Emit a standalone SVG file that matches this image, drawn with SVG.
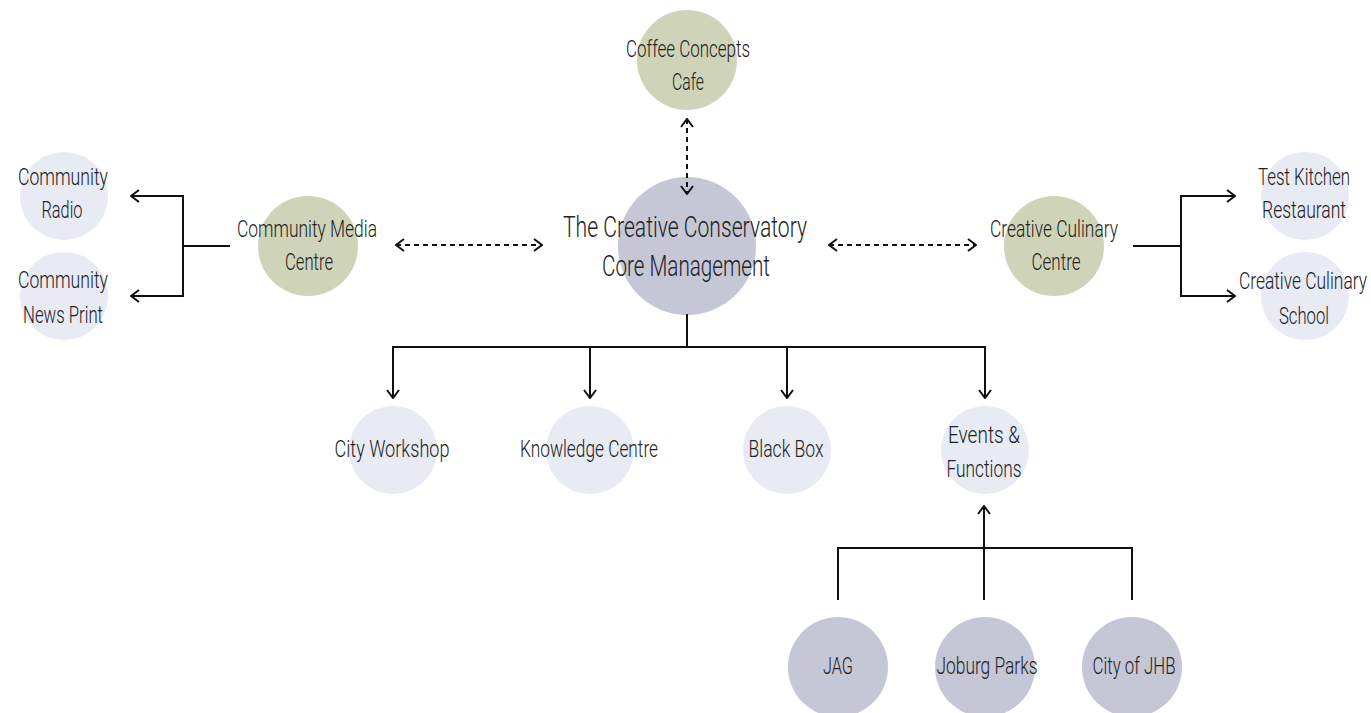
<svg xmlns="http://www.w3.org/2000/svg" width="1371" height="713" viewBox="0 0 1371 713">
<defs>
<style>
.olive{fill:#cfd3b7}
.core{fill:#c5c6d6}
.light{fill:#e8eaf4}
.dark{fill:#c5c6d6}
text{font-family:Roboto,"Liberation Sans",sans-serif;font-weight:300;fill:#222;text-anchor:middle}
.s{font-size:16px}
.l{font-size:20px}
.ln{fill:none;stroke:#111;stroke-width:2}
.dash{fill:none;stroke:#111;stroke-width:2;stroke-dasharray:5 4}
</style>
<marker id="ah" viewBox="0 0 10 14" refX="9" refY="7" markerWidth="10" markerHeight="14" markerUnits="userSpaceOnUse" orient="auto-start-reverse">
<path d="M1,1 L9,7 L1,13" fill="none" stroke="#111" stroke-width="2" stroke-dasharray="none"/>
</marker>
</defs>

<g id="coffee">
<circle class="olive" cx="687" cy="60" r="50"/>
<text class="s" transform="translate(688,57) scale(1,1.5)" textLength="124" lengthAdjust="spacingAndGlyphs">Coffee Concepts</text>
<text class="s" transform="translate(688,90) scale(1,1.5)" textLength="32" lengthAdjust="spacingAndGlyphs">Cafe</text>
</g>
<g id="core">
<circle class="core" cx="687" cy="246" r="69"/>
<text class="l" transform="translate(685,237) scale(1,1.5)" textLength="244" lengthAdjust="spacingAndGlyphs">The Creative Conservatory</text>
<text class="l" transform="translate(686,276) scale(1,1.5)" textLength="168" lengthAdjust="spacingAndGlyphs">Core Management</text>
</g>
<g id="media">
<circle class="olive" cx="308" cy="246" r="50"/>
<text class="s" transform="translate(307,237) scale(1,1.5)" textLength="140" lengthAdjust="spacingAndGlyphs">Community Media</text>
<text class="s" transform="translate(309,270) scale(1,1.5)" textLength="48" lengthAdjust="spacingAndGlyphs">Centre</text>
</g>
<g id="radio">
<circle class="light" cx="64" cy="196" r="44"/>
<text class="s" transform="translate(63,185) scale(1,1.5)" textLength="90" lengthAdjust="spacingAndGlyphs">Community</text>
<text class="s" transform="translate(62,218) scale(1,1.5)" textLength="41" lengthAdjust="spacingAndGlyphs">Radio</text>
</g>
<g id="newsprint">
<circle class="light" cx="64" cy="296" r="44"/>
<text class="s" transform="translate(63,288) scale(1,1.5)" textLength="90" lengthAdjust="spacingAndGlyphs">Community</text>
<text class="s" transform="translate(63,323) scale(1,1.5)" textLength="80" lengthAdjust="spacingAndGlyphs">News Print</text>
</g>
<g id="culinary">
<circle class="olive" cx="1054" cy="246" r="50"/>
<text class="s" transform="translate(1054,237) scale(1,1.5)" textLength="128" lengthAdjust="spacingAndGlyphs">Creative Culinary</text>
<text class="s" transform="translate(1056,270) scale(1,1.5)" textLength="49" lengthAdjust="spacingAndGlyphs">Centre</text>
</g>
<g id="testkitchen">
<circle class="light" cx="1305" cy="196" r="44"/>
<text class="s" transform="translate(1304,185) scale(1,1.5)" textLength="92" lengthAdjust="spacingAndGlyphs">Test Kitchen</text>
<text class="s" transform="translate(1304,218) scale(1,1.5)" textLength="84" lengthAdjust="spacingAndGlyphs">Restaurant</text>
</g>
<g id="school">
<circle class="light" cx="1305" cy="296" r="44"/>
<text class="s" transform="translate(1303,289) scale(1,1.5)" textLength="128" lengthAdjust="spacingAndGlyphs">Creative Culinary</text>
<text class="s" transform="translate(1304,324) scale(1,1.5)" textLength="50" lengthAdjust="spacingAndGlyphs">School</text>
</g>
<g id="workshop">
<circle class="light" cx="393" cy="450" r="44"/>
<text class="s" transform="translate(392,457) scale(1,1.5)" textLength="115" lengthAdjust="spacingAndGlyphs">City Workshop</text>
</g>
<g id="knowledge">
<circle class="light" cx="590" cy="450" r="44"/>
<text class="s" transform="translate(589,457) scale(1,1.5)" textLength="138" lengthAdjust="spacingAndGlyphs">Knowledge Centre</text>
</g>
<g id="blackbox">
<circle class="light" cx="787" cy="450" r="44"/>
<text class="s" transform="translate(786,457) scale(1,1.5)" textLength="75" lengthAdjust="spacingAndGlyphs">Black Box</text>
</g>
<g id="events">
<circle class="light" cx="985" cy="450" r="44"/>
<text class="s" transform="translate(984,443) scale(1,1.5)" textLength="72" lengthAdjust="spacingAndGlyphs">Events &amp;</text>
<text class="s" transform="translate(984,477) scale(1,1.5)" textLength="75" lengthAdjust="spacingAndGlyphs">Functions</text>
</g>
<g id="jag">
<circle class="dark" cx="838" cy="667" r="50"/>
<text class="s" transform="translate(838,674) scale(1,1.5)" textLength="30" lengthAdjust="spacingAndGlyphs">JAG</text>
</g>
<g id="joburgparks">
<circle class="dark" cx="985" cy="667" r="50"/>
<text class="s" transform="translate(987,674) scale(1,1.5)" textLength="101" lengthAdjust="spacingAndGlyphs">Joburg Parks</text>
</g>
<g id="cityjhb">
<circle class="dark" cx="1132" cy="667" r="50"/>
<text class="s" transform="translate(1134,674) scale(1,1.5)" textLength="83" lengthAdjust="spacingAndGlyphs">City of JHB</text>
</g>

<g id="connectors">
<path class="dash" d="M687,119 L687,194" marker-start="url(#ah)" marker-end="url(#ah)"/>
<path class="dash" d="M396,245 L542,245" marker-start="url(#ah)" marker-end="url(#ah)"/>
<path class="dash" d="M829,245 L976,245" marker-start="url(#ah)" marker-end="url(#ah)"/>
<path class="ln" d="M230,246 L183,246"/>
<path class="ln" d="M183,196 L183,296"/>
<path class="ln" d="M184,196 L131,196" marker-end="url(#ah)"/>
<path class="ln" d="M184,296 L131,296" marker-end="url(#ah)"/>
<path class="ln" d="M1133,246 L1181,246"/>
<path class="ln" d="M1181,196 L1181,296"/>
<path class="ln" d="M1180,196 L1235,196" marker-end="url(#ah)"/>
<path class="ln" d="M1180,296 L1235,296" marker-end="url(#ah)"/>
<path class="ln" d="M687,314 L687,347"/>
<path class="ln" d="M393,347 L986,347"/>
<path class="ln" d="M393,346 L393,398" marker-end="url(#ah)"/>
<path class="ln" d="M590,346 L590,398" marker-end="url(#ah)"/>
<path class="ln" d="M787,346 L787,398" marker-end="url(#ah)"/>
<path class="ln" d="M985,346 L985,398" marker-end="url(#ah)"/>
<path class="ln" d="M838,600 L838,548 L1132,548 L1132,600"/>
<path class="ln" d="M984,600 L984,506" marker-end="url(#ah)"/>
</g>
</svg>
